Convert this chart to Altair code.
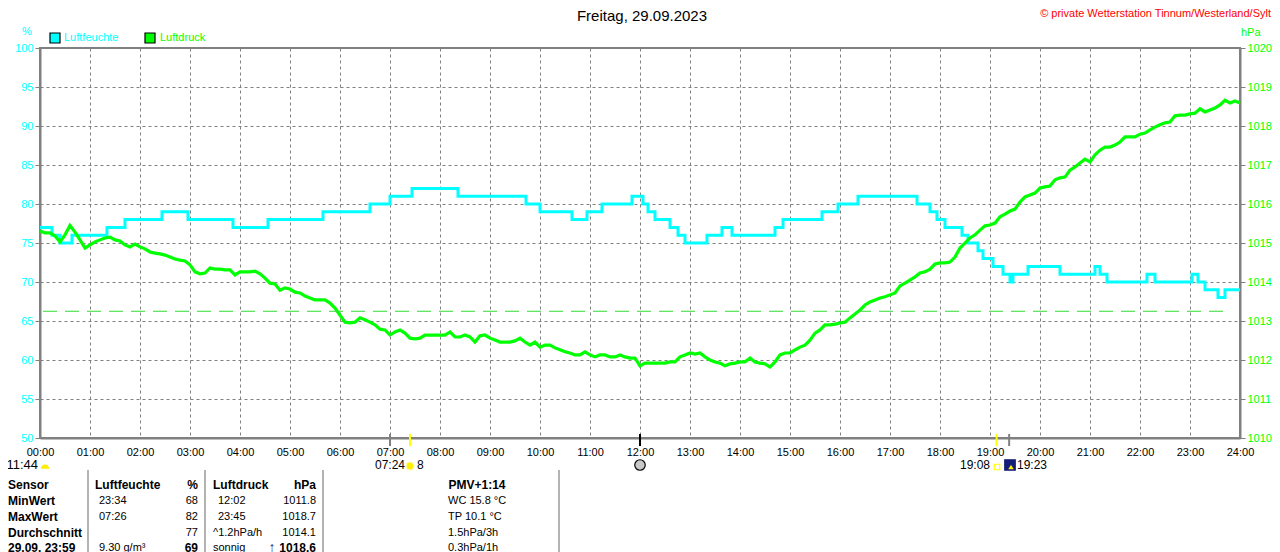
import altair as alt
import pandas as pd

FONT = "Liberation Sans"

# ---------------- data ----------------
# Luftdruck (hPa), sampled every 6 minutes from 00:00 to 24:00
pressure = [
    1015.31, 1015.26, 1015.26, 1015.18, 1015.03, 1015.21, 1015.45, 1015.28, 1015.08, 1014.87,
    1014.95, 1015.03, 1015.08, 1015.13, 1015.15, 1015.08, 1015.05, 1014.95, 1014.90, 1014.97,
    1014.90, 1014.85, 1014.77, 1014.74, 1014.72, 1014.69, 1014.64, 1014.59, 1014.56, 1014.54,
    1014.44, 1014.26, 1014.21, 1014.23, 1014.36, 1014.33, 1014.33, 1014.31, 1014.31, 1014.18,
    1014.26, 1014.26, 1014.26, 1014.28, 1014.21, 1014.10, 1013.97, 1013.95, 1013.79, 1013.85,
    1013.82, 1013.74, 1013.72, 1013.64, 1013.59, 1013.54, 1013.54, 1013.54, 1013.46, 1013.33,
    1013.15, 1012.97, 1012.95, 1012.97, 1013.08, 1013.03, 1012.97, 1012.90, 1012.79, 1012.77,
    1012.64, 1012.72, 1012.77, 1012.69, 1012.56, 1012.54, 1012.56, 1012.64, 1012.64, 1012.64,
    1012.64, 1012.64, 1012.72, 1012.59, 1012.59, 1012.64, 1012.59, 1012.46, 1012.62, 1012.64,
    1012.56, 1012.51, 1012.46, 1012.46, 1012.46, 1012.49, 1012.56, 1012.46, 1012.38, 1012.46,
    1012.33, 1012.38, 1012.38, 1012.31, 1012.26, 1012.21, 1012.18, 1012.13, 1012.13, 1012.21,
    1012.13, 1012.08, 1012.13, 1012.13, 1012.08, 1012.08, 1012.13, 1012.08, 1012.05, 1012.05,
    1011.85, 1011.92, 1011.92, 1011.92, 1011.92, 1011.92, 1011.95, 1011.95, 1012.08, 1012.13,
    1012.18, 1012.15, 1012.18, 1012.08, 1012.00, 1011.95, 1011.92, 1011.85, 1011.90, 1011.92,
    1011.95, 1011.95, 1012.05, 1011.95, 1011.92, 1011.90, 1011.82, 1011.95, 1012.13, 1012.18,
    1012.18, 1012.26, 1012.33, 1012.38, 1012.51, 1012.69, 1012.77, 1012.90, 1012.90, 1012.92,
    1012.95, 1012.97, 1013.08, 1013.18, 1013.28, 1013.41, 1013.49, 1013.54, 1013.59, 1013.62,
    1013.67, 1013.72, 1013.90, 1013.97, 1014.05, 1014.13, 1014.23, 1014.26, 1014.33, 1014.46,
    1014.49, 1014.49, 1014.51, 1014.64, 1014.87, 1015.00, 1015.13, 1015.21, 1015.33, 1015.44,
    1015.46, 1015.51, 1015.67, 1015.74, 1015.82, 1015.87, 1016.05, 1016.18, 1016.23, 1016.28,
    1016.41, 1016.44, 1016.46, 1016.62, 1016.67, 1016.69, 1016.87, 1016.95, 1017.05, 1017.15,
    1017.08, 1017.26, 1017.38, 1017.46, 1017.46, 1017.51, 1017.59, 1017.72, 1017.72, 1017.72,
    1017.79, 1017.82, 1017.90, 1017.97, 1018.03, 1018.08, 1018.10, 1018.26, 1018.28, 1018.28,
    1018.31, 1018.33, 1018.44, 1018.36, 1018.41, 1018.46, 1018.54, 1018.66, 1018.59, 1018.64,
    1018.59,
]
pressure_hours = [i / 10 for i in range(len(pressure))]

# Luftfeuchte (%), step changes: hour of change and new value
hum_hours = [0.00, 0.24, 0.40, 0.64, 1.34, 1.70, 2.44, 2.96, 3.86, 4.56,
             5.66, 6.60, 7.00, 7.44, 8.36, 9.72, 10.00, 10.64, 10.94, 11.24,
             11.84, 12.06, 12.16, 12.30, 12.60, 12.76, 12.90, 13.34, 13.64, 13.84,
             14.70, 14.86, 15.64, 15.96, 16.36, 17.54, 17.80, 17.94, 18.10, 18.44,
             18.56, 18.76, 18.86, 19.06, 19.26, 19.40, 19.46, 19.76, 20.40, 21.10,
             21.20, 21.34, 22.14, 22.30, 23.04, 23.16, 23.30, 23.56, 23.70, 24.00]
hum_values = [77, 76, 75, 76, 77, 78, 79, 78, 77, 78,
              79, 80, 81, 82, 81, 80, 79, 78, 79, 80,
              81, 80, 79, 78, 77, 76, 75, 76, 77, 76,
              77, 78, 79, 80, 81, 80, 79, 78, 77, 76,
              75, 74, 73, 72, 71, 70, 71, 72, 71, 72,
              71, 70, 71, 70, 71, 70, 69, 68, 69, 69]

reference_pressure = [1013.25]

# markers on the time axis: 07:00, sunrise 07:24, 12:00, sunset 19:08, 19:23
marker_hours = [7.0, 7.4, 12.0, 19.133, 19.383]
marker_colors = ["#808080", "#ffff00", "#000000", "#ffff00", "#808080"]

title_text = "Freitag, 29.09.2023"
copyright_text = "© private Wetterstation Tinnum/Westerland/Sylt"

# table contents
row_labels = ["Sensor", "MinWert", "MaxWert", "Durchschnitt", "29.09. 23:59"]
hum_times = ["Luftfeuchte", "23:34", "07:26", "", "9.30 g/m³"]
hum_stats = ["%", "68", "82", "77", "69"]
pres_times = ["Luftdruck", "12:02", "23:45", "^1.2hPa/h", "sonnig"]
pres_stats = ["hPa", "1011.8", "1018.7", "1014.1", "1018.6"]
extra_stats = ["PMV+1:14", "WC 15.8 °C", "TP 10.1 °C", "1.5hPa/3h", "0.3hPa/1h"]

# ---------------- layout ----------------
W, H = 1200, 390
CYAN = "#00ffff"
GREEN = "#00ff00"
GRAY = "#808080"

hum_df = pd.DataFrame({"t": hum_hours, "v": hum_values})
pres_df = pd.DataFrame({"t": pressure_hours, "p": pressure})

x_scale = alt.Scale(domain=[0, 24], nice=False, zero=False)
x_axis = alt.Axis(
    values=list(range(25)),
    labelExpr="(datum.value < 10 ? '0' : '') + datum.value + ':00'",
    grid=True, gridDash=[3, 3], gridColor=GRAY, gridWidth=1,
    domainColor=GRAY, domainWidth=2, ticks=False,
    labelColor="black", labelFontSize=11, labelFont=FONT,
    labelPadding=8, labelFlush=False, labelOverlap=False, title=None,
)
x_enc = alt.X("t:Q", scale=x_scale, axis=x_axis)

hum_line = alt.Chart(hum_df).mark_line(
    color=CYAN, strokeWidth=3, interpolate="step-after"
).encode(
    x=x_enc,
    y=alt.Y("v:Q", scale=alt.Scale(domain=[50, 100], nice=False, zero=False),
            axis=alt.Axis(values=list(range(50, 101, 5)), orient="left",
                          grid=True, gridDash=[3, 3], gridColor=GRAY,
                          domainColor=GRAY, domainWidth=2,
                          tickColor=GRAY, tickSize=5, tickWidth=1,
                          labelColor=CYAN, labelFontSize=11, labelFont=FONT,
                          labelPadding=2, title=None)),
)

pres_line = alt.Chart(pres_df).mark_line(color=GREEN, strokeWidth=3.2).encode(
    x=x_enc,
    y=alt.Y("p:Q", scale=alt.Scale(domain=[1010, 1020], nice=False, zero=False),
            axis=alt.Axis(values=list(range(1010, 1021)), orient="right",
                          grid=False, domainColor=GRAY, domainWidth=2,
                          tickColor=GRAY, tickSize=5, tickWidth=1,
                          labelColor=GREEN, labelFontSize=11, labelFont=FONT,
                          labelPadding=2, format="d", title=None)),
)

ref_rule = alt.Chart(pd.DataFrame({"p": reference_pressure})).mark_rule(
    color="#30dd30", strokeWidth=1, strokeDash=[14, 8]
).encode(
    y=alt.Y("p:Q", scale=alt.Scale(domain=[1010, 1020], nice=False, zero=False), axis=None),
    x=alt.value(3), x2=alt.value(1190),
)

markers = alt.Chart(pd.DataFrame({"t": marker_hours, "c": marker_colors})).mark_rule(
    strokeWidth=2
).encode(
    x=x_enc,
    y=alt.value(386), y2=alt.value(398),
    color=alt.Color("c:N", scale=None),
)

# ---------------- texts ----------------
texts = []


def add(text, px, py, align="left", color="black", size=11, weight="normal"):
    texts.append(dict(text=text, px=px, py=py, align=align, color=color,
                      size=size, weight=weight))


add(title_text, 602, -32, "center", "black", 15)
add(copyright_text, 1231, -34, "right", "#ff0000", 11)
add("%", -13, -16, "center", CYAN, 11)
add("hPa", 1201, -15, "left", GREEN, 11)
add("Luftfeuchte", 24, -10, "left", CYAN, 11)
add("Luftdruck", 120, -10, "left", GREEN, 11)

add("11:44", -2, 417, "right", "black", 13)
add("07:24", 365, 417, "right", "black", 12)
add("8", 377, 417, "left", "black", 12)
add("19:08", 950, 417, "right", "black", 12)
add("19:23", 977, 417, "left", "black", 12)

row_y = [437, 453, 469, 485, 500]
for i, y in enumerate(row_y):
    bold = "bold" if i in (0, 4) else "normal"
    add(row_labels[i], -32, y, "left", "black", 12, "bold")
    add(hum_times[i], 55 if i == 0 else 59, y, "left", "black",
        12 if i == 0 else 11, "bold" if i == 0 else "normal")
    add(hum_stats[i], 158, y, "right", "black", 12 if i in (0, 4) else 11, bold)
    add(pres_times[i], 173 if i in (0, 3, 4) else 178, y, "left", "black",
        12 if i == 0 else 11, "bold" if i == 0 else "normal")
    add(pres_stats[i], 276, y, "right", "black", 12 if i in (0, 4) else 11, bold)
    if i == 0:
        add(extra_stats[i], 437, y, "center", "black", 12, "bold")
    else:
        add(extra_stats[i], 408, y, "left", "black", 11)
add("↑", 232, row_y[4], "center", "#1a2a70", 14, "bold")

tdf = pd.DataFrame(texts)
text_layers = []
for (al, wt), sub in tdf.groupby(["align", "weight"]):
    text_layers.append(
        alt.Chart(sub).mark_text(align=al, fontWeight=wt, baseline="middle", font=FONT).encode(
            x=alt.X("px:Q", scale=None, axis=None),
            y=alt.Y("py:Q", scale=None, axis=None),
            text="text:N",
            color=alt.Color("color:N", scale=None),
            size=alt.Size("size:Q", scale=None),
        )
    )

# legend boxes and small icons
icons = pd.DataFrame({
    "px": [15, 110, 370, 600, 957, 970],
    "py": [-10, -10, 418, 417, 419, 417],
    "shape": ["square", "square", "circle", "circle", "square", "square"],
    "fill": [CYAN, GREEN, "#ffee00", "#c8c8c8", "#ffffff", "#141e78"],
    "stroke": ["black", "black", "#fff59a", "black", "#ffff00", "#141e78"],
    "size": [100, 100, 60, 110, 30, 110],
})
icon_layer = alt.Chart(icons).mark_point(filled=True, strokeWidth=1.2, opacity=1).encode(
    x=alt.X("px:Q", scale=None, axis=None),
    y=alt.Y("py:Q", scale=None, axis=None),
    shape=alt.Shape("shape:N", scale=None),
    fill=alt.Fill("fill:N", scale=None),
    stroke=alt.Stroke("stroke:N", scale=None),
    size=alt.Size("size:Q", scale=None),
)
moon = alt.Chart(pd.DataFrame({"px": [5], "py": [419]})).mark_point(
    shape="M-1,0.4 A1,1 0 0 1 1,0.4 Z", filled=True, color="#ffee00", size=70, opacity=1
).encode(x=alt.X("px:Q", scale=None, axis=None), y=alt.Y("py:Q", scale=None, axis=None))
arrow_icon = alt.Chart(pd.DataFrame({"px": [971], "py": [419]})).mark_point(
    shape="triangle-up", filled=True, color="#ffee00", size=30, opacity=1
).encode(x=alt.X("px:Q", scale=None, axis=None), y=alt.Y("py:Q", scale=None, axis=None))

# table separators
seps = pd.DataFrame({"px": [48, 165, 283, 519]})
sep_layer = alt.Chart(seps).mark_rule(color="#9a9a9a", strokeWidth=1.5).encode(
    x=alt.X("px:Q", scale=None, axis=None),
    y=alt.value(422), y2=alt.value(510),
)

chart = alt.layer(
    hum_line, pres_line, ref_rule, markers, sep_layer, icon_layer, moon, arrow_icon, *text_layers
).resolve_scale(y="independent").properties(
    width=W, height=H,
    autosize=alt.AutoSizeParams(type="none"),
    padding={"left": 32, "top": 40, "right": 32, "bottom": 114},
    background="white",
).configure_view(stroke=GRAY, strokeWidth=2)

chart.save("out.html", embed_options={"renderer": "svg", "actions": False})
